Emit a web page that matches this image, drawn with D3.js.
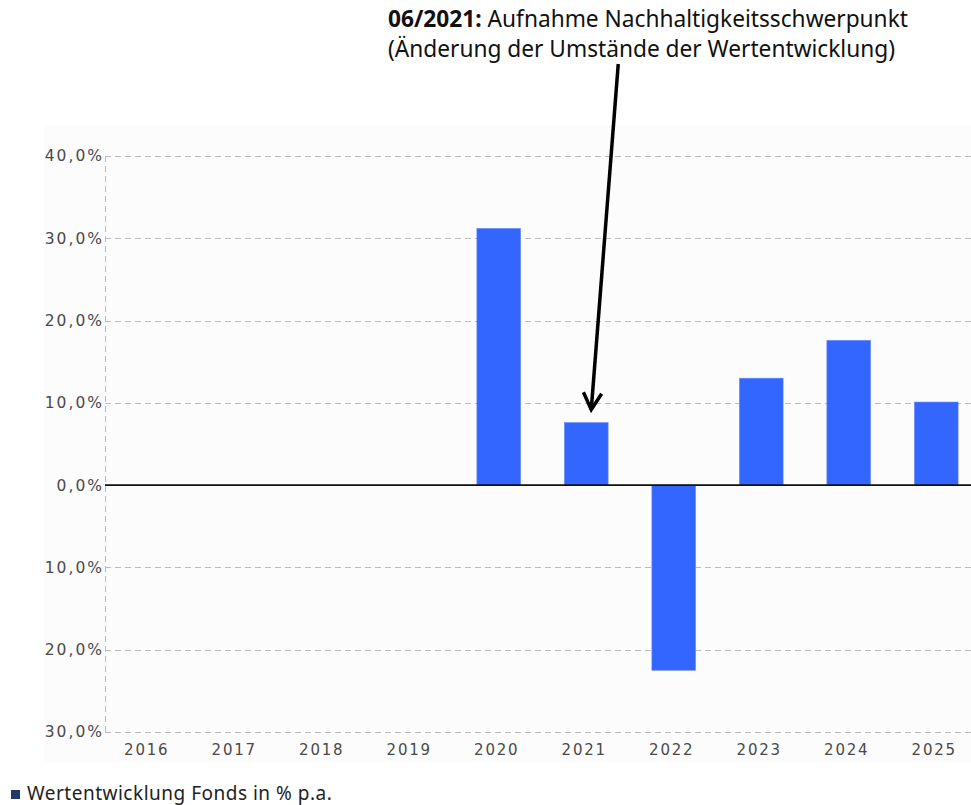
<!DOCTYPE html>
<html>
<head>
<meta charset="utf-8">
<script src="https://cdn.jsdelivr.net/npm/d3@7"></script>
<style>
    body { margin: 0; background: #fff; }
    svg { display: block; }
</style>
</head>
<body>
<script>
// data
const years = ["2016", "2017", "2018", "2019", "2020", "2021", "2022", "2023", "2024", "2025"];
const values = [null, null, null, null, 31.2, 7.6, -22.5, 13.0, 17.6, 10.1];
const yTicks = [40, 30, 20, 10, 0, -10, -20, -30];
const legendLabel = "Wertentwicklung Fonds in % p.a.";
const noteBold = "06/2021:";
const noteLine1 = " Aufnahme Nachhaltigkeitsschwerpunkt";
const noteLine2 = "(Änderung der Umstände der Wertentwicklung)";
const noteYear = "2021";

function init() {
    "use strict";

    const w = 971;
    const h = 805;
    const panelLeft = 44;
    const panelTop = 125;
    const panelBottom = 762;
    const axisX = 105;

    const svg = d3.select("body")
    .append("svg")
        .attr("width", w)
        .attr("height", h);

    // light panel behind the chart
    svg.append("rect")
        .attr("x", panelLeft)
        .attr("y", panelTop)
        .attr("width", w - panelLeft)
        .attr("height", panelBottom - panelTop)
        .attr("fill", "#fcfcfc");

    svg.append("clipPath")
        .attr("id", "panel-clip")
        .append("rect")
            .attr("x", panelLeft)
            .attr("y", panelTop)
            .attr("width", w - panelLeft)
            .attr("height", panelBottom - panelTop);

    const chart = svg.append("g").attr("clip-path", "url(#panel-clip)");

    // scales
    const xScale = d3.scaleBand()
                    .domain(years)
                    .range([axisX, axisX + 10 * 87.5])
                    .paddingInner(0.5)
                    .paddingOuter(0.25);

    const yScale = d3.scaleLinear()
                    .domain([-30, 40])
                    .range([732, 156]);

    // grid lines
    chart.append("g")
        .selectAll("line")
        .data(yTicks.filter(d => d !== 0))
        .enter()
        .append("line")
            .attr("x1", axisX)
            .attr("x2", w)
            .attr("y1", d => Math.round(yScale(d)) + 0.5)
            .attr("y2", d => Math.round(yScale(d)) + 0.5)
            .attr("stroke", "#bdbdbd")
            .attr("stroke-dasharray", "6,4");

    // vertical axis (dashed)
    chart.append("line")
        .attr("x1", axisX + 0.5)
        .attr("x2", axisX + 0.5)
        .attr("y1", yScale(40))
        .attr("y2", yScale(-30))
        .attr("stroke", "#bdbdbd")
        .attr("stroke-dasharray", "6,4");

    // y labels, the sign and first digit disappear behind the panel edge
    const yAxis = d3.axisLeft(yScale)
                    .tickValues(yTicks)
                    .tickSize(0)
                    .tickPadding(1)
                    .tickFormat(d => d3.format(".1f")(d).replace(".", ",") + "%");
    const gy = chart.append("g")
        .attr("transform", "translate(" + axisX + ",0)")
        .call(yAxis);
    gy.select(".domain").remove();
    gy.selectAll("text")
        .attr("font-family", "DejaVu Sans")
        .attr("font-size", 15.5)
        .attr("letter-spacing", 2)
        .attr("fill", "#4a4a4a");

    // bars
    const data = years.map((y, i) => ({ year: y, value: values[i] }))
                    .filter(d => d.value !== null);
    chart.selectAll("rect.bar")
    .data(data)
    .enter()
    .append("rect")
        .attr("class", "bar")
        .attr("x", d => xScale(d.year))
        .attr("y", d => yScale(Math.max(0, d.value)))
        .attr("width", xScale.bandwidth())
        .attr("height", d => Math.abs(yScale(d.value) - yScale(0)))
        .attr("fill", "#3366ff")
        .attr("stroke", "#6a8dff")
        .attr("stroke-width", 0.6);

    // zero line
    chart.append("line")
        .attr("x1", axisX)
        .attr("x2", w)
        .attr("y1", yScale(0))
        .attr("y2", yScale(0))
        .attr("stroke", "#111")
        .attr("stroke-width", 1.6);

    // x labels
    const xAxis = d3.axisBottom(xScale).tickSize(0).tickPadding(8);
    const gx = chart.append("g")
        .attr("transform", "translate(-2," + (yScale(-30) + 4) + ")")
        .call(xAxis);
    gx.select(".domain").remove();
    gx.selectAll("text")
        .attr("font-family", "DejaVu Sans")
        .attr("font-size", 15)
        .attr("letter-spacing", 1.8)
        .attr("fill", "#4a4a4a");

    // annotation
    const note = svg.append("text")
        .attr("x", 388)
        .attr("y", 27)
        .attr("font-family", "Noto Sans")
        .attr("font-size", 22.7)
        .attr("fill", "#111");
    note.append("tspan").attr("font-weight", "bold").text(noteBold);
    note.append("tspan").text(noteLine1);
    svg.append("text")
        .attr("x", 388)
        .attr("y", 57)
        .attr("font-family", "Noto Sans")
        .attr("font-size", 22.7)
        .attr("fill", "#111")
        .text(noteLine2);

    // arrow to the 2021 bar
    const noteBar = data.find(d => d.year === noteYear);
    const tipX = xScale(noteYear) + xScale.bandwidth() / 2 + 5;
    const tipY = yScale(noteBar.value) - 13;
    const startX = tipX + 27;
    const startY = 64;
    const ang = Math.atan2(tipY - startY, tipX - startX);
    const headLen = 19;
    const headAng = 0.5;
    svg.append("line")
        .attr("x1", startX)
        .attr("y1", startY)
        .attr("x2", tipX)
        .attr("y2", tipY)
        .attr("stroke", "#000")
        .attr("stroke-width", 3.5);
    svg.append("path")
        .attr("d", "M" + (tipX - headLen * Math.cos(ang - headAng)) + "," + (tipY - headLen * Math.sin(ang - headAng)) +
                   "L" + tipX + "," + tipY +
                   "L" + (tipX - headLen * Math.cos(ang + headAng)) + "," + (tipY - headLen * Math.sin(ang + headAng)))
        .attr("fill", "none")
        .attr("stroke", "#000")
        .attr("stroke-width", 3.5);

    // legend
    svg.append("rect")
        .attr("x", 11)
        .attr("y", 790)
        .attr("width", 9)
        .attr("height", 9)
        .attr("fill", "#23386b");
    svg.append("text")
        .attr("x", 27)
        .attr("y", 800)
        .attr("font-family", "Noto Sans")
        .attr("font-size", 19)
        .attr("letter-spacing", 0.5)
        .attr("fill", "#222")
        .text(legendLabel);
}

window.onload = init;
</script>
</body>
</html>
